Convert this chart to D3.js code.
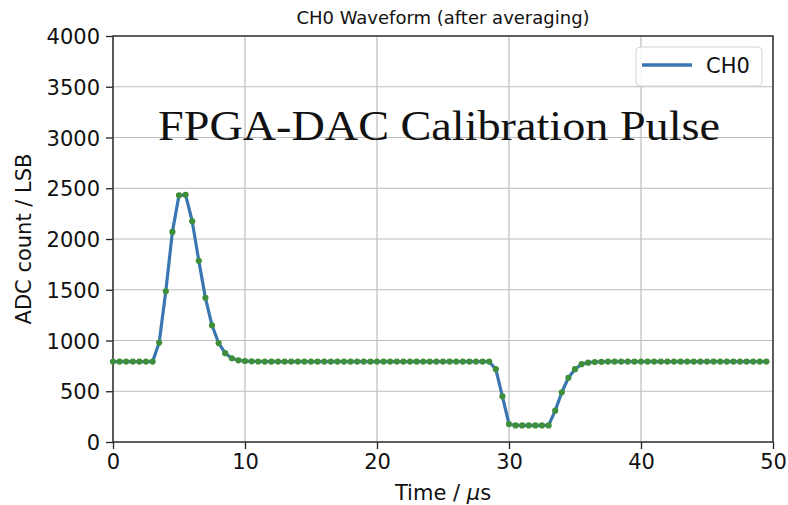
<!DOCTYPE html>
<html>
<head>
<meta charset="utf-8">
<script src="https://cdn.jsdelivr.net/npm/d3@7"></script>
<style>
  body { margin: 0; background: #fff; }
  svg text { font-family: "DejaVu Sans", sans-serif; fill: #111; }
</style>
</head>
<body>
<svg id="chart" width="788" height="505"></svg>
<script>
// sample period of the averaged waveform (µs)
var samplePeriod = 0.5;

// averaged ADC counts, one per sample, CH0
var ch0Counts = [
    792, 792, 792, 792, 792, 792, 792, 980, 1485, 2070,
    2430, 2435, 2175, 1785, 1420, 1150, 975, 875, 825, 805,
    798, 795, 793, 792, 792, 792, 792, 792, 792, 792,
    792, 792, 792, 792, 792, 792, 792, 792, 792, 792,
    792, 792, 792, 792, 792, 792, 792, 792, 792, 792,
    792, 792, 792, 792, 792, 792, 792, 792, 717, 450,
    177, 163, 163, 163, 163, 163, 163, 309, 490, 633,
    717, 767, 782, 788, 790, 792, 792, 792, 792, 792,
    792, 792, 792, 792, 792, 792, 792, 792, 792, 792,
    792, 792, 792, 792, 792, 792, 792, 792, 792, 792
];

var xTicks = [0, 10, 20, 30, 40, 50];
var yTicks = [0, 500, 1000, 1500, 2000, 2500, 3000, 3500, 4000];

var margin = {top: 36, right: 15, bottom: 63, left: 113};
var width = 788, height = 505;

var svg = d3.select("#chart");

var x = d3.scaleLinear().domain([0, 50]).range([margin.left, width - margin.right]);
var y = d3.scaleLinear().domain([0, 4000]).range([height - margin.bottom, margin.top]);

var data = ch0Counts.map(function (v, i) { return {t: i * samplePeriod, v: v}; });

// grid
var grid = svg.append("g");
grid.selectAll(".gx").data(xTicks).enter().append("line")
    .attr("x1", function (d) { return x(d); }).attr("x2", function (d) { return x(d); })
    .attr("y1", y(0)).attr("y2", y(4000))
    .attr("stroke", "#bdbdbd").attr("stroke-width", 1.2);
grid.selectAll(".gy").data(yTicks).enter().append("line")
    .attr("y1", function (d) { return y(d); }).attr("y2", function (d) { return y(d); })
    .attr("x1", x(0)).attr("x2", x(50))
    .attr("stroke", "#bdbdbd").attr("stroke-width", 1.2);

// axes
var xAxis = svg.append("g")
    .attr("transform", "translate(0," + y(0) + ")")
    .call(d3.axisBottom(x).tickValues(xTicks).tickSize(7).tickPadding(5).tickFormat(d3.format("d")));
var yAxis = svg.append("g")
    .attr("transform", "translate(" + x(0) + ",0)")
    .call(d3.axisLeft(y).tickValues(yTicks).tickSize(7).tickPadding(6).tickFormat(d3.format("d")));

[xAxis, yAxis].forEach(function (ax) {
    ax.select(".domain").remove();
    ax.selectAll(".tick line").attr("stroke", "#222").attr("stroke-width", 1.3);
    ax.selectAll(".tick text").style("font-size", "21px").attr("fill", "#111");
});
yAxis.selectAll(".tick text").attr("dy", "0.36em");

// frame
svg.append("rect")
    .attr("x", x(0)).attr("y", y(4000))
    .attr("width", x(50) - x(0)).attr("height", y(0) - y(4000))
    .attr("fill", "none").attr("stroke", "#333").attr("stroke-width", 1.5);

// series
var line = d3.line().x(function (d) { return x(d.t); }).y(function (d) { return y(d.v); });
svg.append("path").datum(data)
    .attr("d", line)
    .attr("fill", "none").attr("stroke", "#3a76b2").attr("stroke-width", 3.2)
    .attr("stroke-linejoin", "round");
svg.append("g").selectAll("circle").data(data).enter().append("circle")
    .attr("cx", function (d) { return x(d.t); })
    .attr("cy", function (d) { return y(d.v); })
    .attr("r", 3.1)
    .attr("fill", "#3f8f3a");

// titles
svg.append("text")
    .attr("x", (x(0) + x(50)) / 2).attr("y", 24)
    .attr("text-anchor", "middle").style("font-size", "18px")
    .text("CH0 Waveform (after averaging)");
var xl = svg.append("text")
    .attr("x", (x(0) + x(50)) / 2).attr("y", 500)
    .attr("text-anchor", "middle").style("font-size", "21px");
xl.append("tspan").text("Time / ");
xl.append("tspan").style("font-style", "italic").text("µ");
xl.append("tspan").text("s");
svg.append("text")
    .attr("transform", "translate(31," + ((y(0) + y(4000)) / 2) + ") rotate(-90)")
    .attr("text-anchor", "middle").style("font-size", "21px")
    .text("ADC count / LSB");

// legend
var legend = svg.append("g");
legend.append("rect")
    .attr("x", 636).attr("y", 47).attr("width", 126).attr("height", 39).attr("rx", 4)
    .attr("fill", "#fff").attr("fill-opacity", 0.85)
    .attr("stroke", "#d5d5d5").attr("stroke-width", 1);
legend.append("line")
    .attr("x1", 642).attr("x2", 692).attr("y1", 65).attr("y2", 65)
    .attr("stroke", "#3a76b2").attr("stroke-width", 3.5);
legend.append("text")
    .attr("x", 706).attr("y", 73).style("font-size", "21px")
    .text("CH0");

// overlay caption
svg.append("text")
    .attr("x", 158).attr("y", 140)
    .style("font-family", "'Liberation Serif', 'DejaVu Serif', serif")
    .style("font-size", "42px").attr("fill", "#000")
    .attr("textLength", 562).attr("lengthAdjust", "spacingAndGlyphs")
    .text("FPGA-DAC Calibration Pulse");
</script>
</body>
</html>
